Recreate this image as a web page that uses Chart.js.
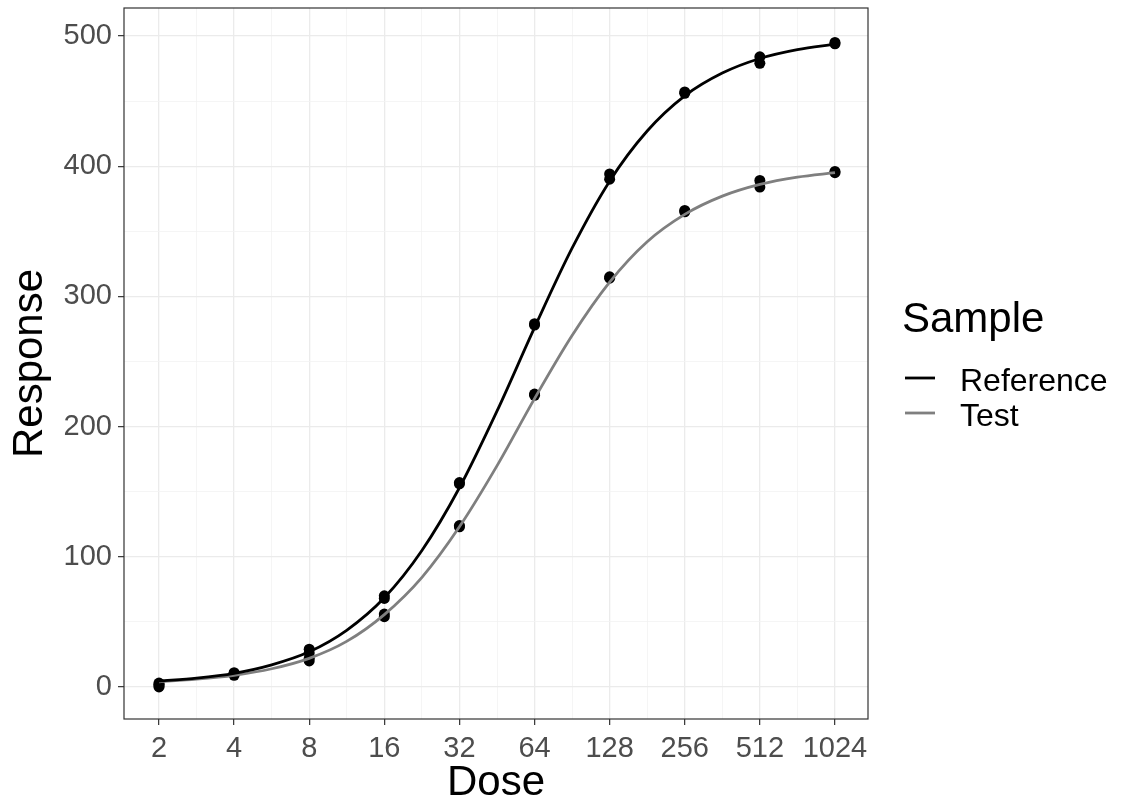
<!DOCTYPE html>
<html>
<head>
<meta charset="utf-8">
<script src="https://cdn.jsdelivr.net/npm/chart.js@4/dist/chart.umd.min.js"></script>
<style>
  html, body { margin: 0; padding: 0; background: #fff; }
  #wrap { width: 1125px; height: 807px; }
</style>
</head>
<body>
<div id="wrap"><canvas id="myChart"></canvas></div>
<script>
// observed doses and the two replicates per sample
const doses = [2, 4, 8, 16, 32, 64, 128, 256, 512, 1024];
const refRep1 = [3, 11, 29, 68, 156, 278, 390, 456, 484, 495];
const refRep2 = [0, 10, 26, 70, 157, 279, 394, 457, 479, 494];
const testRep1 = [2, 9, 20, 54, 123, 224, 314, 365, 389, 396];
const testRep2 = [1, 10, 22, 56, 124, 225, 315, 366, 384, 395];

// fitted curves at half-doubling steps
const curveDoses = [2, 2.83, 4, 5.66, 8, 11.3, 16, 22.6, 32, 45.3, 64, 90.5, 128, 181, 256, 362, 512, 724, 1024];
const refCurve = [4.5, 6.8, 10.5, 17, 27, 43.5, 68.5, 104.6, 153, 212, 276, 337, 388.5, 427, 454, 471.5, 482.7, 489.5, 493.7];
const testCurve = [4, 6, 9, 14, 22, 35, 55.6, 84, 123, 170, 221.5, 270, 311, 342, 363, 377, 386, 391.6, 395];

const seriesNames = ["Reference", "Test"];
const xMajorTicks = [2, 4, 8, 16, 32, 64, 128, 256, 512, 1024];
const xMinorTicks = [2.83, 5.66, 11.3, 22.6, 45.3, 90.5, 181, 362, 724];
const yMajorTicks = [0, 100, 200, 300, 400, 500];
const yMinorTicks = [50, 150, 250, 350, 450];

const FONT = "'Liberation Sans', Arial, sans-serif";
const lineColors = ["#000000", "#7f7f7f"];

const pts = (xs, ys) => xs.map((x, i) => ({ x: x, y: ys[i] }));
const tickList = (major, minor) =>
  major.map((v) => ({ value: v })).concat(minor.map((v) => ({ value: v, minor: true })))
    .sort((a, b) => a.value - b.value);

const gridOpts = {
  color: (c) => (c.tick && c.tick.minor ? "#f3f3f3" : "#ebebeb"),
  lineWidth: (c) => (c.tick && c.tick.minor ? 0.8 : 1.3),
  tickColor: (c) => (c.tick && c.tick.minor ? "rgba(0,0,0,0)" : "#333333"),
  tickWidth: 1.2,
  tickLength: 6,
  drawTicks: true,
};

const panelBorder = {
  id: "panelBorder",
  afterDatasetsDraw(chart) {
    const { ctx, chartArea: a } = chart;
    ctx.save();
    ctx.strokeStyle = "#333333";
    ctx.lineWidth = 1.2;
    ctx.strokeRect(a.left, a.top, a.right - a.left, a.bottom - a.top);
    ctx.restore();
  },
};

const legendBox = {
  id: "legendBox",
  afterDraw(chart) {
    const ctx = chart.ctx;
    ctx.save();
    ctx.fillStyle = "#000";
    ctx.textBaseline = "alphabetic";
    ctx.font = "42px " + FONT;
    ctx.fillText("Sample", 902, 332);
    ctx.font = "32px " + FONT;
    seriesNames.forEach((name, i) => {
      const y = 378 + i * 35;
      ctx.strokeStyle = lineColors[i];
      ctx.lineWidth = 2.8;
      ctx.beginPath();
      ctx.moveTo(905, y);
      ctx.lineTo(935, y);
      ctx.stroke();
      ctx.fillStyle = "#000";
      ctx.fillText(name, 960, y + 13);
    });
    ctx.restore();
  },
};

const ctx = document.getElementById("myChart").getContext("2d");

new Chart(ctx, {
  type: "scatter",
  data: {
    datasets: [
      {
        label: seriesNames[0],
        data: pts(curveDoses, refCurve),
        showLine: true,
        borderColor: lineColors[0],
        borderWidth: 2.8,
        pointRadius: 0,
        cubicInterpolationMode: "monotone",
        order: 1,
      },
      {
        label: seriesNames[1],
        data: pts(curveDoses, testCurve),
        showLine: true,
        borderColor: lineColors[1],
        borderWidth: 2.8,
        pointRadius: 0,
        cubicInterpolationMode: "monotone",
        order: 1,
      },
      {
        label: seriesNames[0] + " points",
        data: pts(doses, refRep1).concat(pts(doses, refRep2)),
        backgroundColor: "#000",
        borderWidth: 0,
        pointRadius: 5.5,
        order: 2,
      },
      {
        label: seriesNames[1] + " points",
        data: pts(doses, testRep1).concat(pts(doses, testRep2)),
        backgroundColor: "#000",
        borderWidth: 0,
        pointRadius: 5.5,
        order: 2,
      },
    ],
  },
  options: {
    responsive: true,
    maintainAspectRatio: false,
    animation: false,
    layout: { padding: { top: 8, right: 257, left: 0, bottom: 0 } },
    plugins: {
      legend: { display: false },
      tooltip: { enabled: false },
    },
    scales: {
      x: {
        type: "logarithmic",
        min: 1.448,
        max: 1389,
        afterBuildTicks: (scale) => { scale.ticks = tickList(xMajorTicks, xMinorTicks); },
        afterFit: (scale) => { scale.height = 88; },
        grid: gridOpts,
        border: { display: false },
        ticks: {
          autoSkip: false,
          maxRotation: 0,
          padding: 9,
          color: "#4d4d4d",
          font: { family: FONT, size: 29, lineHeight: 1 },
          callback: (v) => (xMajorTicks.includes(v) ? String(v) : ""),
        },
        title: {
          display: true,
          text: "Dose",
          color: "#000",
          font: { family: FONT, size: 42, lineHeight: 1.1 },
          padding: { top: 0, bottom: 0 },
        },
      },
      y: {
        type: "linear",
        min: -24.6,
        max: 521.5,
        afterBuildTicks: (scale) => { scale.ticks = tickList(yMajorTicks, yMinorTicks); },
        afterFit: (scale) => { scale.width = 124; },
        grid: gridOpts,
        border: { display: false },
        ticks: {
          autoSkip: false,
          padding: 6,
          color: "#4d4d4d",
          font: { family: FONT, size: 29, lineHeight: 0.05 },
          callback: (v) => (yMajorTicks.includes(v) ? String(v) : ""),
        },
        title: {
          display: true,
          text: "Response",
          color: "#000",
          font: { family: FONT, size: 42, lineHeight: 1.2 },
          padding: { top: 5, bottom: 0 },
        },
      },
    },
  },
  plugins: [panelBorder, legendBox],
});
</script>
</body>
</html>
